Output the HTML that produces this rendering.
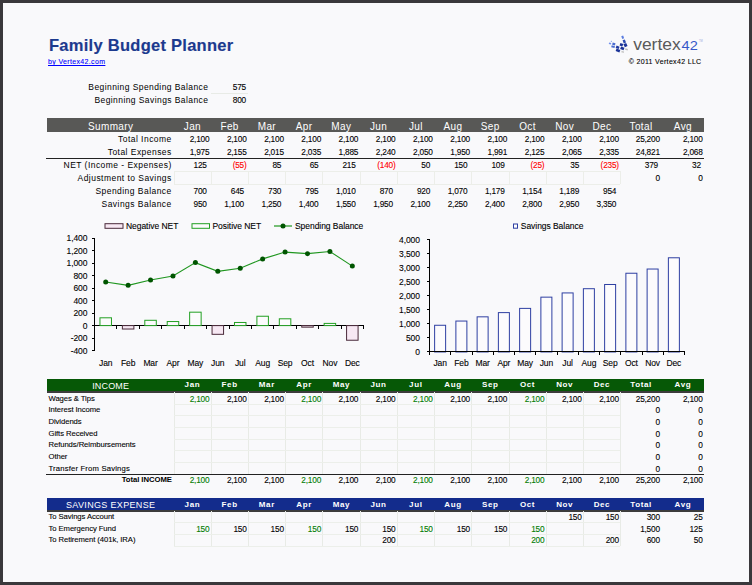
<!DOCTYPE html>
<html lang="en"><head><meta charset="utf-8"><title>Family Budget Planner</title>
<style>
html,body{margin:0;padding:0;}
body{width:752px;height:585px;overflow:hidden;background:#3a383b;font-family:"Liberation Sans", sans-serif;position:relative;}
#pg{position:absolute;left:3px;top:3px;width:746px;height:579px;background:#f9f9fb;}
#c{position:absolute;left:0;top:0;width:752px;height:585px;}
.t{position:absolute;white-space:nowrap;-webkit-text-stroke:0.1px currentColor;}
.r{position:absolute;}
svg{position:absolute;left:0;top:0;}
svg text{font-family:"Liberation Sans", sans-serif;}
svg .ch text{stroke:#000;stroke-width:0.1px;}
a{color:#0000ee;}
</style></head><body><div id="pg"></div><div id="c">
<div class="t" style="top:37.80px;height:14px;line-height:14px;font-size:16.5px;color:#1c3a8e;font-weight:bold;-webkit-text-stroke:0;letter-spacing:0.27px;left:49.00px;height:24px;line-height:24px;margin-top:-5px;-webkit-text-stroke:0.15px currentColor;">Family Budget Planner</div>
<div class="t" style="top:55.00px;height:14px;line-height:14px;font-size:7px;color:#000;letter-spacing:0.35px;left:48.00px;"><a href="#" style="color:#0000ff;text-decoration:underline;">by Vertex42.com</a></div>
<div class="t" style="top:55.00px;height:14px;line-height:14px;font-size:7px;color:#000;letter-spacing:0.33px;right:50.50px;text-align:right;">&copy; 2011 Vertex42 LLC</div>
<div class="t" style="top:79.80px;height:14px;line-height:14px;font-size:8.5px;color:#000;-webkit-text-stroke:0;letter-spacing:0.42px;right:543.60px;text-align:right;">Beginning Spending Balance</div>
<div class="t" style="top:93.00px;height:14px;line-height:14px;font-size:8.5px;color:#000;-webkit-text-stroke:0;letter-spacing:0.42px;right:543.60px;text-align:right;">Beginning Savings Balance</div>
<div class="t" style="top:80.00px;height:14px;line-height:14px;font-size:8.3px;color:#000;letter-spacing:-0.22px;right:506.00px;text-align:right;">575</div>
<div class="t" style="top:93.30px;height:14px;line-height:14px;font-size:8.3px;color:#000;letter-spacing:-0.22px;right:506.00px;text-align:right;">800</div>
<div class="r" style="left:211.00px;top:93.00px;width:37.00px;height:1.00px;background:#e8ebe6;"></div>
<div class="r" style="left:46.80px;top:118.20px;width:657.20px;height:13.50px;background:#585856;"></div>
<div class="t" style="top:119.65px;height:14px;line-height:14px;font-size:10px;color:#fff;-webkit-text-stroke:0;letter-spacing:0.35px;left:10.65px;width:200px;text-align:center;">Summary</div>
<div class="t" style="top:119.65px;height:14px;line-height:14px;font-size:10px;color:#fff;-webkit-text-stroke:0;letter-spacing:0.35px;left:92.42px;width:200px;text-align:center;">Jan</div>
<div class="t" style="top:119.65px;height:14px;line-height:14px;font-size:10px;color:#fff;-webkit-text-stroke:0;letter-spacing:0.35px;left:129.64px;width:200px;text-align:center;">Feb</div>
<div class="t" style="top:119.65px;height:14px;line-height:14px;font-size:10px;color:#fff;-webkit-text-stroke:0;letter-spacing:0.35px;left:166.88px;width:200px;text-align:center;">Mar</div>
<div class="t" style="top:119.65px;height:14px;line-height:14px;font-size:10px;color:#fff;-webkit-text-stroke:0;letter-spacing:0.35px;left:204.10px;width:200px;text-align:center;">Apr</div>
<div class="t" style="top:119.65px;height:14px;line-height:14px;font-size:10px;color:#fff;-webkit-text-stroke:0;letter-spacing:0.35px;left:241.33px;width:200px;text-align:center;">May</div>
<div class="t" style="top:119.65px;height:14px;line-height:14px;font-size:10px;color:#fff;-webkit-text-stroke:0;letter-spacing:0.35px;left:278.56px;width:200px;text-align:center;">Jun</div>
<div class="t" style="top:119.65px;height:14px;line-height:14px;font-size:10px;color:#fff;-webkit-text-stroke:0;letter-spacing:0.35px;left:315.80px;width:200px;text-align:center;">Jul</div>
<div class="t" style="top:119.65px;height:14px;line-height:14px;font-size:10px;color:#fff;-webkit-text-stroke:0;letter-spacing:0.35px;left:353.02px;width:200px;text-align:center;">Aug</div>
<div class="t" style="top:119.65px;height:14px;line-height:14px;font-size:10px;color:#fff;-webkit-text-stroke:0;letter-spacing:0.35px;left:390.25px;width:200px;text-align:center;">Sep</div>
<div class="t" style="top:119.65px;height:14px;line-height:14px;font-size:10px;color:#fff;-webkit-text-stroke:0;letter-spacing:0.35px;left:427.48px;width:200px;text-align:center;">Oct</div>
<div class="t" style="top:119.65px;height:14px;line-height:14px;font-size:10px;color:#fff;-webkit-text-stroke:0;letter-spacing:0.35px;left:464.71px;width:200px;text-align:center;">Nov</div>
<div class="t" style="top:119.65px;height:14px;line-height:14px;font-size:10px;color:#fff;-webkit-text-stroke:0;letter-spacing:0.35px;left:501.94px;width:200px;text-align:center;">Dec</div>
<div class="t" style="top:119.65px;height:14px;line-height:14px;font-size:10px;color:#fff;-webkit-text-stroke:0;letter-spacing:0.35px;left:541.03px;width:200px;text-align:center;">Total</div>
<div class="t" style="top:119.65px;height:14px;line-height:14px;font-size:10px;color:#fff;-webkit-text-stroke:0;letter-spacing:0.35px;left:582.90px;width:200px;text-align:center;">Avg</div>
<div class="t" style="top:132.30px;height:14px;line-height:14px;font-size:8.5px;color:#000;-webkit-text-stroke:0;letter-spacing:0.46px;right:580.24px;text-align:right;">Total Income</div>
<div class="t" style="top:132.00px;height:14px;line-height:14px;font-size:8.3px;color:#000;letter-spacing:-0.22px;right:542.67px;text-align:right;">2,100</div>
<div class="t" style="top:132.00px;height:14px;line-height:14px;font-size:8.3px;color:#000;letter-spacing:-0.22px;right:505.44px;text-align:right;">2,100</div>
<div class="t" style="top:132.00px;height:14px;line-height:14px;font-size:8.3px;color:#000;letter-spacing:-0.22px;right:468.21px;text-align:right;">2,100</div>
<div class="t" style="top:132.00px;height:14px;line-height:14px;font-size:8.3px;color:#000;letter-spacing:-0.22px;right:430.98px;text-align:right;">2,100</div>
<div class="t" style="top:132.00px;height:14px;line-height:14px;font-size:8.3px;color:#000;letter-spacing:-0.22px;right:393.75px;text-align:right;">2,100</div>
<div class="t" style="top:132.00px;height:14px;line-height:14px;font-size:8.3px;color:#000;letter-spacing:-0.22px;right:356.52px;text-align:right;">2,100</div>
<div class="t" style="top:132.00px;height:14px;line-height:14px;font-size:8.3px;color:#000;letter-spacing:-0.22px;right:319.29px;text-align:right;">2,100</div>
<div class="t" style="top:132.00px;height:14px;line-height:14px;font-size:8.3px;color:#000;letter-spacing:-0.22px;right:282.06px;text-align:right;">2,100</div>
<div class="t" style="top:132.00px;height:14px;line-height:14px;font-size:8.3px;color:#000;letter-spacing:-0.22px;right:244.83px;text-align:right;">2,100</div>
<div class="t" style="top:132.00px;height:14px;line-height:14px;font-size:8.3px;color:#000;letter-spacing:-0.22px;right:207.60px;text-align:right;">2,100</div>
<div class="t" style="top:132.00px;height:14px;line-height:14px;font-size:8.3px;color:#000;letter-spacing:-0.22px;right:170.37px;text-align:right;">2,100</div>
<div class="t" style="top:132.00px;height:14px;line-height:14px;font-size:8.3px;color:#000;letter-spacing:-0.22px;right:133.14px;text-align:right;">2,100</div>
<div class="t" style="top:132.00px;height:14px;line-height:14px;font-size:8.3px;color:#000;letter-spacing:-0.22px;right:92.20px;text-align:right;">25,200</div>
<div class="t" style="top:132.00px;height:14px;line-height:14px;font-size:8.3px;color:#000;letter-spacing:-0.22px;right:49.40px;text-align:right;">2,100</div>
<div class="t" style="top:145.20px;height:14px;line-height:14px;font-size:8.5px;color:#000;-webkit-text-stroke:0;letter-spacing:0.46px;right:580.24px;text-align:right;">Total Expenses</div>
<div class="t" style="top:144.90px;height:14px;line-height:14px;font-size:8.3px;color:#000;letter-spacing:-0.22px;right:542.67px;text-align:right;">1,975</div>
<div class="t" style="top:144.90px;height:14px;line-height:14px;font-size:8.3px;color:#000;letter-spacing:-0.22px;right:505.44px;text-align:right;">2,155</div>
<div class="t" style="top:144.90px;height:14px;line-height:14px;font-size:8.3px;color:#000;letter-spacing:-0.22px;right:468.21px;text-align:right;">2,015</div>
<div class="t" style="top:144.90px;height:14px;line-height:14px;font-size:8.3px;color:#000;letter-spacing:-0.22px;right:430.98px;text-align:right;">2,035</div>
<div class="t" style="top:144.90px;height:14px;line-height:14px;font-size:8.3px;color:#000;letter-spacing:-0.22px;right:393.75px;text-align:right;">1,885</div>
<div class="t" style="top:144.90px;height:14px;line-height:14px;font-size:8.3px;color:#000;letter-spacing:-0.22px;right:356.52px;text-align:right;">2,240</div>
<div class="t" style="top:144.90px;height:14px;line-height:14px;font-size:8.3px;color:#000;letter-spacing:-0.22px;right:319.29px;text-align:right;">2,050</div>
<div class="t" style="top:144.90px;height:14px;line-height:14px;font-size:8.3px;color:#000;letter-spacing:-0.22px;right:282.06px;text-align:right;">1,950</div>
<div class="t" style="top:144.90px;height:14px;line-height:14px;font-size:8.3px;color:#000;letter-spacing:-0.22px;right:244.83px;text-align:right;">1,991</div>
<div class="t" style="top:144.90px;height:14px;line-height:14px;font-size:8.3px;color:#000;letter-spacing:-0.22px;right:207.60px;text-align:right;">2,125</div>
<div class="t" style="top:144.90px;height:14px;line-height:14px;font-size:8.3px;color:#000;letter-spacing:-0.22px;right:170.37px;text-align:right;">2,065</div>
<div class="t" style="top:144.90px;height:14px;line-height:14px;font-size:8.3px;color:#000;letter-spacing:-0.22px;right:133.14px;text-align:right;">2,335</div>
<div class="t" style="top:144.90px;height:14px;line-height:14px;font-size:8.3px;color:#000;letter-spacing:-0.22px;right:92.20px;text-align:right;">24,821</div>
<div class="t" style="top:144.90px;height:14px;line-height:14px;font-size:8.3px;color:#000;letter-spacing:-0.22px;right:49.40px;text-align:right;">2,068</div>
<div class="t" style="top:158.10px;height:14px;line-height:14px;font-size:8.5px;color:#000;-webkit-text-stroke:0;letter-spacing:0.46px;right:580.24px;text-align:right;">NET (Income - Expenses)</div>
<div class="t" style="top:157.80px;height:14px;line-height:14px;font-size:8.3px;color:#000;letter-spacing:-0.22px;right:545.27px;text-align:right;">125</div>
<div class="t" style="top:157.80px;height:14px;line-height:14px;font-size:8.3px;color:#ff0000;letter-spacing:-0.22px;right:505.44px;text-align:right;">(55)</div>
<div class="t" style="top:157.80px;height:14px;line-height:14px;font-size:8.3px;color:#000;letter-spacing:-0.22px;right:470.81px;text-align:right;">85</div>
<div class="t" style="top:157.80px;height:14px;line-height:14px;font-size:8.3px;color:#000;letter-spacing:-0.22px;right:433.58px;text-align:right;">65</div>
<div class="t" style="top:157.80px;height:14px;line-height:14px;font-size:8.3px;color:#000;letter-spacing:-0.22px;right:396.35px;text-align:right;">215</div>
<div class="t" style="top:157.80px;height:14px;line-height:14px;font-size:8.3px;color:#ff0000;letter-spacing:-0.22px;right:356.52px;text-align:right;">(140)</div>
<div class="t" style="top:157.80px;height:14px;line-height:14px;font-size:8.3px;color:#000;letter-spacing:-0.22px;right:321.89px;text-align:right;">50</div>
<div class="t" style="top:157.80px;height:14px;line-height:14px;font-size:8.3px;color:#000;letter-spacing:-0.22px;right:284.66px;text-align:right;">150</div>
<div class="t" style="top:157.80px;height:14px;line-height:14px;font-size:8.3px;color:#000;letter-spacing:-0.22px;right:247.43px;text-align:right;">109</div>
<div class="t" style="top:157.80px;height:14px;line-height:14px;font-size:8.3px;color:#ff0000;letter-spacing:-0.22px;right:207.60px;text-align:right;">(25)</div>
<div class="t" style="top:157.80px;height:14px;line-height:14px;font-size:8.3px;color:#000;letter-spacing:-0.22px;right:172.97px;text-align:right;">35</div>
<div class="t" style="top:157.80px;height:14px;line-height:14px;font-size:8.3px;color:#ff0000;letter-spacing:-0.22px;right:133.14px;text-align:right;">(235)</div>
<div class="t" style="top:157.80px;height:14px;line-height:14px;font-size:8.3px;color:#000;letter-spacing:-0.22px;right:94.00px;text-align:right;">379</div>
<div class="t" style="top:157.80px;height:14px;line-height:14px;font-size:8.3px;color:#000;letter-spacing:-0.22px;right:51.20px;text-align:right;">32</div>
<div class="t" style="top:171.00px;height:14px;line-height:14px;font-size:8.5px;color:#000;-webkit-text-stroke:0;letter-spacing:0.46px;right:580.24px;text-align:right;">Adjustment to Savings</div>
<div class="t" style="top:170.70px;height:14px;line-height:14px;font-size:8.3px;color:#000;letter-spacing:-0.22px;right:92.20px;text-align:right;">0</div>
<div class="t" style="top:170.70px;height:14px;line-height:14px;font-size:8.3px;color:#000;letter-spacing:-0.22px;right:49.40px;text-align:right;">0</div>
<div class="t" style="top:183.90px;height:14px;line-height:14px;font-size:8.5px;color:#000;-webkit-text-stroke:0;letter-spacing:0.46px;right:580.24px;text-align:right;">Spending Balance</div>
<div class="t" style="top:183.60px;height:14px;line-height:14px;font-size:8.3px;color:#000;letter-spacing:-0.22px;right:545.27px;text-align:right;">700</div>
<div class="t" style="top:183.60px;height:14px;line-height:14px;font-size:8.3px;color:#000;letter-spacing:-0.22px;right:508.04px;text-align:right;">645</div>
<div class="t" style="top:183.60px;height:14px;line-height:14px;font-size:8.3px;color:#000;letter-spacing:-0.22px;right:470.81px;text-align:right;">730</div>
<div class="t" style="top:183.60px;height:14px;line-height:14px;font-size:8.3px;color:#000;letter-spacing:-0.22px;right:433.58px;text-align:right;">795</div>
<div class="t" style="top:183.60px;height:14px;line-height:14px;font-size:8.3px;color:#000;letter-spacing:-0.22px;right:396.35px;text-align:right;">1,010</div>
<div class="t" style="top:183.60px;height:14px;line-height:14px;font-size:8.3px;color:#000;letter-spacing:-0.22px;right:359.12px;text-align:right;">870</div>
<div class="t" style="top:183.60px;height:14px;line-height:14px;font-size:8.3px;color:#000;letter-spacing:-0.22px;right:321.89px;text-align:right;">920</div>
<div class="t" style="top:183.60px;height:14px;line-height:14px;font-size:8.3px;color:#000;letter-spacing:-0.22px;right:284.66px;text-align:right;">1,070</div>
<div class="t" style="top:183.60px;height:14px;line-height:14px;font-size:8.3px;color:#000;letter-spacing:-0.22px;right:247.43px;text-align:right;">1,179</div>
<div class="t" style="top:183.60px;height:14px;line-height:14px;font-size:8.3px;color:#000;letter-spacing:-0.22px;right:210.20px;text-align:right;">1,154</div>
<div class="t" style="top:183.60px;height:14px;line-height:14px;font-size:8.3px;color:#000;letter-spacing:-0.22px;right:172.97px;text-align:right;">1,189</div>
<div class="t" style="top:183.60px;height:14px;line-height:14px;font-size:8.3px;color:#000;letter-spacing:-0.22px;right:135.74px;text-align:right;">954</div>
<div class="t" style="top:196.80px;height:14px;line-height:14px;font-size:8.5px;color:#000;-webkit-text-stroke:0;letter-spacing:0.46px;right:580.24px;text-align:right;">Savings Balance</div>
<div class="t" style="top:196.50px;height:14px;line-height:14px;font-size:8.3px;color:#000;letter-spacing:-0.22px;right:545.27px;text-align:right;">950</div>
<div class="t" style="top:196.50px;height:14px;line-height:14px;font-size:8.3px;color:#000;letter-spacing:-0.22px;right:508.04px;text-align:right;">1,100</div>
<div class="t" style="top:196.50px;height:14px;line-height:14px;font-size:8.3px;color:#000;letter-spacing:-0.22px;right:470.81px;text-align:right;">1,250</div>
<div class="t" style="top:196.50px;height:14px;line-height:14px;font-size:8.3px;color:#000;letter-spacing:-0.22px;right:433.58px;text-align:right;">1,400</div>
<div class="t" style="top:196.50px;height:14px;line-height:14px;font-size:8.3px;color:#000;letter-spacing:-0.22px;right:396.35px;text-align:right;">1,550</div>
<div class="t" style="top:196.50px;height:14px;line-height:14px;font-size:8.3px;color:#000;letter-spacing:-0.22px;right:359.12px;text-align:right;">1,950</div>
<div class="t" style="top:196.50px;height:14px;line-height:14px;font-size:8.3px;color:#000;letter-spacing:-0.22px;right:321.89px;text-align:right;">2,100</div>
<div class="t" style="top:196.50px;height:14px;line-height:14px;font-size:8.3px;color:#000;letter-spacing:-0.22px;right:284.66px;text-align:right;">2,250</div>
<div class="t" style="top:196.50px;height:14px;line-height:14px;font-size:8.3px;color:#000;letter-spacing:-0.22px;right:247.43px;text-align:right;">2,400</div>
<div class="t" style="top:196.50px;height:14px;line-height:14px;font-size:8.3px;color:#000;letter-spacing:-0.22px;right:210.20px;text-align:right;">2,800</div>
<div class="t" style="top:196.50px;height:14px;line-height:14px;font-size:8.3px;color:#000;letter-spacing:-0.22px;right:172.97px;text-align:right;">2,950</div>
<div class="t" style="top:196.50px;height:14px;line-height:14px;font-size:8.3px;color:#000;letter-spacing:-0.22px;right:135.74px;text-align:right;">3,350</div>
<div class="r" style="left:46.00px;top:158.20px;width:657.50px;height:1.00px;background:#222;"></div>
<div class="r" style="left:173.50px;top:171.30px;width:1.00px;height:13.00px;background:#eceee9;"></div>
<div class="r" style="left:210.73px;top:171.30px;width:1.00px;height:13.00px;background:#eceee9;"></div>
<div class="r" style="left:247.96px;top:171.30px;width:1.00px;height:13.00px;background:#eceee9;"></div>
<div class="r" style="left:285.19px;top:171.30px;width:1.00px;height:13.00px;background:#eceee9;"></div>
<div class="r" style="left:322.42px;top:171.30px;width:1.00px;height:13.00px;background:#eceee9;"></div>
<div class="r" style="left:359.65px;top:171.30px;width:1.00px;height:13.00px;background:#eceee9;"></div>
<div class="r" style="left:396.88px;top:171.30px;width:1.00px;height:13.00px;background:#eceee9;"></div>
<div class="r" style="left:434.11px;top:171.30px;width:1.00px;height:13.00px;background:#eceee9;"></div>
<div class="r" style="left:471.34px;top:171.30px;width:1.00px;height:13.00px;background:#eceee9;"></div>
<div class="r" style="left:508.57px;top:171.30px;width:1.00px;height:13.00px;background:#eceee9;"></div>
<div class="r" style="left:545.80px;top:171.30px;width:1.00px;height:13.00px;background:#eceee9;"></div>
<div class="r" style="left:583.03px;top:171.30px;width:1.00px;height:13.00px;background:#eceee9;"></div>
<div class="r" style="left:620.26px;top:171.30px;width:1.00px;height:13.00px;background:#eceee9;"></div>
<div class="r" style="left:173.50px;top:171.30px;width:446.76px;height:1.00px;background:#eceee9;"></div>
<div class="r" style="left:173.50px;top:184.30px;width:446.76px;height:1.00px;background:#eceee9;"></div>
<div class="r" style="left:46.80px;top:378.60px;width:657.20px;height:12.60px;background:#065806;"></div>
<div class="t" style="top:378.90px;height:14px;line-height:14px;font-size:9px;color:#fff;-webkit-text-stroke:0;letter-spacing:0.15px;left:10.65px;width:200px;text-align:center;">INCOME</div>
<div class="t" style="top:378.40px;height:14px;line-height:14px;font-size:8px;color:#fff;font-weight:bold;-webkit-text-stroke:0;letter-spacing:0.6px;left:92.42px;width:200px;text-align:center;">Jan</div>
<div class="t" style="top:378.40px;height:14px;line-height:14px;font-size:8px;color:#fff;font-weight:bold;-webkit-text-stroke:0;letter-spacing:0.6px;left:129.64px;width:200px;text-align:center;">Feb</div>
<div class="t" style="top:378.40px;height:14px;line-height:14px;font-size:8px;color:#fff;font-weight:bold;-webkit-text-stroke:0;letter-spacing:0.6px;left:166.88px;width:200px;text-align:center;">Mar</div>
<div class="t" style="top:378.40px;height:14px;line-height:14px;font-size:8px;color:#fff;font-weight:bold;-webkit-text-stroke:0;letter-spacing:0.6px;left:204.10px;width:200px;text-align:center;">Apr</div>
<div class="t" style="top:378.40px;height:14px;line-height:14px;font-size:8px;color:#fff;font-weight:bold;-webkit-text-stroke:0;letter-spacing:0.6px;left:241.33px;width:200px;text-align:center;">May</div>
<div class="t" style="top:378.40px;height:14px;line-height:14px;font-size:8px;color:#fff;font-weight:bold;-webkit-text-stroke:0;letter-spacing:0.6px;left:278.56px;width:200px;text-align:center;">Jun</div>
<div class="t" style="top:378.40px;height:14px;line-height:14px;font-size:8px;color:#fff;font-weight:bold;-webkit-text-stroke:0;letter-spacing:0.6px;left:315.80px;width:200px;text-align:center;">Jul</div>
<div class="t" style="top:378.40px;height:14px;line-height:14px;font-size:8px;color:#fff;font-weight:bold;-webkit-text-stroke:0;letter-spacing:0.6px;left:353.02px;width:200px;text-align:center;">Aug</div>
<div class="t" style="top:378.40px;height:14px;line-height:14px;font-size:8px;color:#fff;font-weight:bold;-webkit-text-stroke:0;letter-spacing:0.6px;left:390.25px;width:200px;text-align:center;">Sep</div>
<div class="t" style="top:378.40px;height:14px;line-height:14px;font-size:8px;color:#fff;font-weight:bold;-webkit-text-stroke:0;letter-spacing:0.6px;left:427.48px;width:200px;text-align:center;">Oct</div>
<div class="t" style="top:378.40px;height:14px;line-height:14px;font-size:8px;color:#fff;font-weight:bold;-webkit-text-stroke:0;letter-spacing:0.6px;left:464.71px;width:200px;text-align:center;">Nov</div>
<div class="t" style="top:378.40px;height:14px;line-height:14px;font-size:8px;color:#fff;font-weight:bold;-webkit-text-stroke:0;letter-spacing:0.6px;left:501.94px;width:200px;text-align:center;">Dec</div>
<div class="t" style="top:378.40px;height:14px;line-height:14px;font-size:8px;color:#fff;font-weight:bold;-webkit-text-stroke:0;letter-spacing:0.6px;left:541.03px;width:200px;text-align:center;">Total</div>
<div class="t" style="top:378.40px;height:14px;line-height:14px;font-size:8px;color:#fff;font-weight:bold;-webkit-text-stroke:0;letter-spacing:0.6px;left:582.90px;width:200px;text-align:center;">Avg</div>
<div class="r" style="left:46.80px;top:391.20px;width:657.20px;height:1.50px;background:#3c3c3c;"></div>
<div class="t" style="top:391.70px;height:14px;line-height:14px;font-size:7.7px;color:#000;letter-spacing:-0.08px;left:48.50px;">Wages &amp; Tips</div>
<div class="t" style="top:391.70px;height:14px;line-height:14px;font-size:8.3px;color:#007c00;letter-spacing:-0.22px;right:542.67px;text-align:right;">2,100</div>
<div class="t" style="top:391.70px;height:14px;line-height:14px;font-size:8.3px;color:#000;letter-spacing:-0.22px;right:505.44px;text-align:right;">2,100</div>
<div class="t" style="top:391.70px;height:14px;line-height:14px;font-size:8.3px;color:#000;letter-spacing:-0.22px;right:468.21px;text-align:right;">2,100</div>
<div class="t" style="top:391.70px;height:14px;line-height:14px;font-size:8.3px;color:#007c00;letter-spacing:-0.22px;right:430.98px;text-align:right;">2,100</div>
<div class="t" style="top:391.70px;height:14px;line-height:14px;font-size:8.3px;color:#000;letter-spacing:-0.22px;right:393.75px;text-align:right;">2,100</div>
<div class="t" style="top:391.70px;height:14px;line-height:14px;font-size:8.3px;color:#000;letter-spacing:-0.22px;right:356.52px;text-align:right;">2,100</div>
<div class="t" style="top:391.70px;height:14px;line-height:14px;font-size:8.3px;color:#007c00;letter-spacing:-0.22px;right:319.29px;text-align:right;">2,100</div>
<div class="t" style="top:391.70px;height:14px;line-height:14px;font-size:8.3px;color:#000;letter-spacing:-0.22px;right:282.06px;text-align:right;">2,100</div>
<div class="t" style="top:391.70px;height:14px;line-height:14px;font-size:8.3px;color:#000;letter-spacing:-0.22px;right:244.83px;text-align:right;">2,100</div>
<div class="t" style="top:391.70px;height:14px;line-height:14px;font-size:8.3px;color:#007c00;letter-spacing:-0.22px;right:207.60px;text-align:right;">2,100</div>
<div class="t" style="top:391.70px;height:14px;line-height:14px;font-size:8.3px;color:#000;letter-spacing:-0.22px;right:170.37px;text-align:right;">2,100</div>
<div class="t" style="top:391.70px;height:14px;line-height:14px;font-size:8.3px;color:#000;letter-spacing:-0.22px;right:133.14px;text-align:right;">2,100</div>
<div class="t" style="top:391.70px;height:14px;line-height:14px;font-size:8.3px;color:#000;letter-spacing:-0.22px;right:92.20px;text-align:right;">25,200</div>
<div class="t" style="top:391.70px;height:14px;line-height:14px;font-size:8.3px;color:#000;letter-spacing:-0.22px;right:49.40px;text-align:right;">2,100</div>
<div class="t" style="top:403.35px;height:14px;line-height:14px;font-size:7.7px;color:#000;letter-spacing:-0.08px;left:48.50px;">Interest Income</div>
<div class="t" style="top:403.35px;height:14px;line-height:14px;font-size:8.3px;color:#000;letter-spacing:-0.22px;right:92.20px;text-align:right;">0</div>
<div class="t" style="top:403.35px;height:14px;line-height:14px;font-size:8.3px;color:#000;letter-spacing:-0.22px;right:49.40px;text-align:right;">0</div>
<div class="t" style="top:415.00px;height:14px;line-height:14px;font-size:7.7px;color:#000;letter-spacing:-0.08px;left:48.50px;">Dividends</div>
<div class="t" style="top:415.00px;height:14px;line-height:14px;font-size:8.3px;color:#000;letter-spacing:-0.22px;right:92.20px;text-align:right;">0</div>
<div class="t" style="top:415.00px;height:14px;line-height:14px;font-size:8.3px;color:#000;letter-spacing:-0.22px;right:49.40px;text-align:right;">0</div>
<div class="t" style="top:426.65px;height:14px;line-height:14px;font-size:7.7px;color:#000;letter-spacing:-0.08px;left:48.50px;">Gifts Received</div>
<div class="t" style="top:426.65px;height:14px;line-height:14px;font-size:8.3px;color:#000;letter-spacing:-0.22px;right:92.20px;text-align:right;">0</div>
<div class="t" style="top:426.65px;height:14px;line-height:14px;font-size:8.3px;color:#000;letter-spacing:-0.22px;right:49.40px;text-align:right;">0</div>
<div class="t" style="top:438.30px;height:14px;line-height:14px;font-size:7.7px;color:#000;letter-spacing:-0.08px;left:48.50px;">Refunds/Reimbursements</div>
<div class="t" style="top:438.30px;height:14px;line-height:14px;font-size:8.3px;color:#000;letter-spacing:-0.22px;right:92.20px;text-align:right;">0</div>
<div class="t" style="top:438.30px;height:14px;line-height:14px;font-size:8.3px;color:#000;letter-spacing:-0.22px;right:49.40px;text-align:right;">0</div>
<div class="t" style="top:449.95px;height:14px;line-height:14px;font-size:7.7px;color:#000;letter-spacing:-0.08px;left:48.50px;">Other</div>
<div class="t" style="top:449.95px;height:14px;line-height:14px;font-size:8.3px;color:#000;letter-spacing:-0.22px;right:92.20px;text-align:right;">0</div>
<div class="t" style="top:449.95px;height:14px;line-height:14px;font-size:8.3px;color:#000;letter-spacing:-0.22px;right:49.40px;text-align:right;">0</div>
<div class="t" style="top:461.60px;height:14px;line-height:14px;font-size:7.7px;color:#000;letter-spacing:0.16999999999999998px;left:48.50px;">Transfer From Savings</div>
<div class="t" style="top:461.60px;height:14px;line-height:14px;font-size:8.3px;color:#000;letter-spacing:-0.22px;right:92.20px;text-align:right;">0</div>
<div class="t" style="top:461.60px;height:14px;line-height:14px;font-size:8.3px;color:#000;letter-spacing:-0.22px;right:49.40px;text-align:right;">0</div>
<div class="r" style="left:173.50px;top:392.40px;width:1.00px;height:81.20px;background:#e8ebe6;"></div>
<div class="r" style="left:210.73px;top:392.40px;width:1.00px;height:81.20px;background:#e8ebe6;"></div>
<div class="r" style="left:247.96px;top:392.40px;width:1.00px;height:81.20px;background:#e8ebe6;"></div>
<div class="r" style="left:285.19px;top:392.40px;width:1.00px;height:81.20px;background:#e8ebe6;"></div>
<div class="r" style="left:322.42px;top:392.40px;width:1.00px;height:81.20px;background:#e8ebe6;"></div>
<div class="r" style="left:359.65px;top:392.40px;width:1.00px;height:81.20px;background:#e8ebe6;"></div>
<div class="r" style="left:396.88px;top:392.40px;width:1.00px;height:81.20px;background:#e8ebe6;"></div>
<div class="r" style="left:434.11px;top:392.40px;width:1.00px;height:81.20px;background:#e8ebe6;"></div>
<div class="r" style="left:471.34px;top:392.40px;width:1.00px;height:81.20px;background:#e8ebe6;"></div>
<div class="r" style="left:508.57px;top:392.40px;width:1.00px;height:81.20px;background:#e8ebe6;"></div>
<div class="r" style="left:545.80px;top:392.40px;width:1.00px;height:81.20px;background:#e8ebe6;"></div>
<div class="r" style="left:583.03px;top:392.40px;width:1.00px;height:81.20px;background:#e8ebe6;"></div>
<div class="r" style="left:620.26px;top:392.40px;width:1.00px;height:81.20px;background:#e8ebe6;"></div>
<div class="r" style="left:173.50px;top:403.65px;width:446.76px;height:1.00px;background:#ecefea;"></div>
<div class="r" style="left:173.50px;top:415.30px;width:446.76px;height:1.00px;background:#ecefea;"></div>
<div class="r" style="left:173.50px;top:426.95px;width:446.76px;height:1.00px;background:#ecefea;"></div>
<div class="r" style="left:173.50px;top:438.60px;width:446.76px;height:1.00px;background:#ecefea;"></div>
<div class="r" style="left:173.50px;top:450.25px;width:446.76px;height:1.00px;background:#ecefea;"></div>
<div class="r" style="left:173.50px;top:461.90px;width:446.76px;height:1.00px;background:#ecefea;"></div>
<div class="r" style="left:46.00px;top:473.60px;width:657.50px;height:1.00px;background:#222;"></div>
<div class="t" style="top:472.90px;height:14px;line-height:14px;font-size:7.7px;color:#000;font-weight:bold;-webkit-text-stroke:0;letter-spacing:-0.05px;right:580.20px;text-align:right;">Total INCOME</div>
<div class="t" style="top:472.90px;height:14px;line-height:14px;font-size:8.3px;color:#007c00;letter-spacing:-0.22px;right:542.67px;text-align:right;">2,100</div>
<div class="t" style="top:472.90px;height:14px;line-height:14px;font-size:8.3px;color:#000;letter-spacing:-0.22px;right:505.44px;text-align:right;">2,100</div>
<div class="t" style="top:472.90px;height:14px;line-height:14px;font-size:8.3px;color:#000;letter-spacing:-0.22px;right:468.21px;text-align:right;">2,100</div>
<div class="t" style="top:472.90px;height:14px;line-height:14px;font-size:8.3px;color:#007c00;letter-spacing:-0.22px;right:430.98px;text-align:right;">2,100</div>
<div class="t" style="top:472.90px;height:14px;line-height:14px;font-size:8.3px;color:#000;letter-spacing:-0.22px;right:393.75px;text-align:right;">2,100</div>
<div class="t" style="top:472.90px;height:14px;line-height:14px;font-size:8.3px;color:#000;letter-spacing:-0.22px;right:356.52px;text-align:right;">2,100</div>
<div class="t" style="top:472.90px;height:14px;line-height:14px;font-size:8.3px;color:#007c00;letter-spacing:-0.22px;right:319.29px;text-align:right;">2,100</div>
<div class="t" style="top:472.90px;height:14px;line-height:14px;font-size:8.3px;color:#000;letter-spacing:-0.22px;right:282.06px;text-align:right;">2,100</div>
<div class="t" style="top:472.90px;height:14px;line-height:14px;font-size:8.3px;color:#000;letter-spacing:-0.22px;right:244.83px;text-align:right;">2,100</div>
<div class="t" style="top:472.90px;height:14px;line-height:14px;font-size:8.3px;color:#007c00;letter-spacing:-0.22px;right:207.60px;text-align:right;">2,100</div>
<div class="t" style="top:472.90px;height:14px;line-height:14px;font-size:8.3px;color:#000;letter-spacing:-0.22px;right:170.37px;text-align:right;">2,100</div>
<div class="t" style="top:472.90px;height:14px;line-height:14px;font-size:8.3px;color:#000;letter-spacing:-0.22px;right:133.14px;text-align:right;">2,100</div>
<div class="t" style="top:472.90px;height:14px;line-height:14px;font-size:8.3px;color:#000;letter-spacing:-0.22px;right:92.20px;text-align:right;">25,200</div>
<div class="t" style="top:472.90px;height:14px;line-height:14px;font-size:8.3px;color:#000;letter-spacing:-0.22px;right:49.40px;text-align:right;">2,100</div>
<div class="r" style="left:46.80px;top:497.90px;width:657.20px;height:12.30px;background:#132c8c;"></div>
<div class="t" style="top:497.55px;height:14px;line-height:14px;font-size:9px;color:#fff;-webkit-text-stroke:0;letter-spacing:0.33px;left:10.65px;width:200px;text-align:center;">SAVINGS EXPENSE</div>
<div class="t" style="top:497.55px;height:14px;line-height:14px;font-size:8px;color:#fff;font-weight:bold;-webkit-text-stroke:0;letter-spacing:0.6px;left:92.42px;width:200px;text-align:center;">Jan</div>
<div class="t" style="top:497.55px;height:14px;line-height:14px;font-size:8px;color:#fff;font-weight:bold;-webkit-text-stroke:0;letter-spacing:0.6px;left:129.64px;width:200px;text-align:center;">Feb</div>
<div class="t" style="top:497.55px;height:14px;line-height:14px;font-size:8px;color:#fff;font-weight:bold;-webkit-text-stroke:0;letter-spacing:0.6px;left:166.88px;width:200px;text-align:center;">Mar</div>
<div class="t" style="top:497.55px;height:14px;line-height:14px;font-size:8px;color:#fff;font-weight:bold;-webkit-text-stroke:0;letter-spacing:0.6px;left:204.10px;width:200px;text-align:center;">Apr</div>
<div class="t" style="top:497.55px;height:14px;line-height:14px;font-size:8px;color:#fff;font-weight:bold;-webkit-text-stroke:0;letter-spacing:0.6px;left:241.33px;width:200px;text-align:center;">May</div>
<div class="t" style="top:497.55px;height:14px;line-height:14px;font-size:8px;color:#fff;font-weight:bold;-webkit-text-stroke:0;letter-spacing:0.6px;left:278.56px;width:200px;text-align:center;">Jun</div>
<div class="t" style="top:497.55px;height:14px;line-height:14px;font-size:8px;color:#fff;font-weight:bold;-webkit-text-stroke:0;letter-spacing:0.6px;left:315.80px;width:200px;text-align:center;">Jul</div>
<div class="t" style="top:497.55px;height:14px;line-height:14px;font-size:8px;color:#fff;font-weight:bold;-webkit-text-stroke:0;letter-spacing:0.6px;left:353.02px;width:200px;text-align:center;">Aug</div>
<div class="t" style="top:497.55px;height:14px;line-height:14px;font-size:8px;color:#fff;font-weight:bold;-webkit-text-stroke:0;letter-spacing:0.6px;left:390.25px;width:200px;text-align:center;">Sep</div>
<div class="t" style="top:497.55px;height:14px;line-height:14px;font-size:8px;color:#fff;font-weight:bold;-webkit-text-stroke:0;letter-spacing:0.6px;left:427.48px;width:200px;text-align:center;">Oct</div>
<div class="t" style="top:497.55px;height:14px;line-height:14px;font-size:8px;color:#fff;font-weight:bold;-webkit-text-stroke:0;letter-spacing:0.6px;left:464.71px;width:200px;text-align:center;">Nov</div>
<div class="t" style="top:497.55px;height:14px;line-height:14px;font-size:8px;color:#fff;font-weight:bold;-webkit-text-stroke:0;letter-spacing:0.6px;left:501.94px;width:200px;text-align:center;">Dec</div>
<div class="t" style="top:497.55px;height:14px;line-height:14px;font-size:8px;color:#fff;font-weight:bold;-webkit-text-stroke:0;letter-spacing:0.6px;left:541.03px;width:200px;text-align:center;">Total</div>
<div class="t" style="top:497.55px;height:14px;line-height:14px;font-size:8px;color:#fff;font-weight:bold;-webkit-text-stroke:0;letter-spacing:0.6px;left:582.90px;width:200px;text-align:center;">Avg</div>
<div class="r" style="left:46.80px;top:510.20px;width:657.20px;height:1.50px;background:#3c3c3c;"></div>
<div class="t" style="top:510.00px;height:14px;line-height:14px;font-size:7.7px;color:#000;letter-spacing:-0.08px;left:48.50px;">To Savings Account</div>
<div class="t" style="top:510.00px;height:14px;line-height:14px;font-size:8.3px;color:#000;letter-spacing:-0.22px;right:170.37px;text-align:right;">150</div>
<div class="t" style="top:510.00px;height:14px;line-height:14px;font-size:8.3px;color:#000;letter-spacing:-0.22px;right:133.14px;text-align:right;">150</div>
<div class="t" style="top:510.00px;height:14px;line-height:14px;font-size:8.3px;color:#000;letter-spacing:-0.22px;right:92.20px;text-align:right;">300</div>
<div class="t" style="top:510.00px;height:14px;line-height:14px;font-size:8.3px;color:#000;letter-spacing:-0.22px;right:49.40px;text-align:right;">25</div>
<div class="t" style="top:521.60px;height:14px;line-height:14px;font-size:7.7px;color:#000;letter-spacing:-0.08px;left:48.50px;">To Emergency Fund</div>
<div class="t" style="top:521.60px;height:14px;line-height:14px;font-size:8.3px;color:#007c00;letter-spacing:-0.22px;right:542.67px;text-align:right;">150</div>
<div class="t" style="top:521.60px;height:14px;line-height:14px;font-size:8.3px;color:#000;letter-spacing:-0.22px;right:505.44px;text-align:right;">150</div>
<div class="t" style="top:521.60px;height:14px;line-height:14px;font-size:8.3px;color:#000;letter-spacing:-0.22px;right:468.21px;text-align:right;">150</div>
<div class="t" style="top:521.60px;height:14px;line-height:14px;font-size:8.3px;color:#007c00;letter-spacing:-0.22px;right:430.98px;text-align:right;">150</div>
<div class="t" style="top:521.60px;height:14px;line-height:14px;font-size:8.3px;color:#000;letter-spacing:-0.22px;right:393.75px;text-align:right;">150</div>
<div class="t" style="top:521.60px;height:14px;line-height:14px;font-size:8.3px;color:#000;letter-spacing:-0.22px;right:356.52px;text-align:right;">150</div>
<div class="t" style="top:521.60px;height:14px;line-height:14px;font-size:8.3px;color:#007c00;letter-spacing:-0.22px;right:319.29px;text-align:right;">150</div>
<div class="t" style="top:521.60px;height:14px;line-height:14px;font-size:8.3px;color:#000;letter-spacing:-0.22px;right:282.06px;text-align:right;">150</div>
<div class="t" style="top:521.60px;height:14px;line-height:14px;font-size:8.3px;color:#000;letter-spacing:-0.22px;right:244.83px;text-align:right;">150</div>
<div class="t" style="top:521.60px;height:14px;line-height:14px;font-size:8.3px;color:#007c00;letter-spacing:-0.22px;right:207.60px;text-align:right;">150</div>
<div class="t" style="top:521.60px;height:14px;line-height:14px;font-size:8.3px;color:#000;letter-spacing:-0.22px;right:92.20px;text-align:right;">1,500</div>
<div class="t" style="top:521.60px;height:14px;line-height:14px;font-size:8.3px;color:#000;letter-spacing:-0.22px;right:49.40px;text-align:right;">125</div>
<div class="t" style="top:533.30px;height:14px;line-height:14px;font-size:7.7px;color:#000;letter-spacing:-0.08px;left:48.50px;">To Retirement (401k, IRA)</div>
<div class="t" style="top:533.30px;height:14px;line-height:14px;font-size:8.3px;color:#000;letter-spacing:-0.22px;right:356.52px;text-align:right;">200</div>
<div class="t" style="top:533.30px;height:14px;line-height:14px;font-size:8.3px;color:#007c00;letter-spacing:-0.22px;right:207.60px;text-align:right;">200</div>
<div class="t" style="top:533.30px;height:14px;line-height:14px;font-size:8.3px;color:#000;letter-spacing:-0.22px;right:133.14px;text-align:right;">200</div>
<div class="t" style="top:533.30px;height:14px;line-height:14px;font-size:8.3px;color:#000;letter-spacing:-0.22px;right:92.20px;text-align:right;">600</div>
<div class="t" style="top:533.30px;height:14px;line-height:14px;font-size:8.3px;color:#000;letter-spacing:-0.22px;right:49.40px;text-align:right;">50</div>
<div class="r" style="left:173.50px;top:511.20px;width:1.00px;height:34.80px;background:#e8ebe6;"></div>
<div class="r" style="left:210.73px;top:511.20px;width:1.00px;height:34.80px;background:#e8ebe6;"></div>
<div class="r" style="left:247.96px;top:511.20px;width:1.00px;height:34.80px;background:#e8ebe6;"></div>
<div class="r" style="left:285.19px;top:511.20px;width:1.00px;height:34.80px;background:#e8ebe6;"></div>
<div class="r" style="left:322.42px;top:511.20px;width:1.00px;height:34.80px;background:#e8ebe6;"></div>
<div class="r" style="left:359.65px;top:511.20px;width:1.00px;height:34.80px;background:#e8ebe6;"></div>
<div class="r" style="left:396.88px;top:511.20px;width:1.00px;height:34.80px;background:#e8ebe6;"></div>
<div class="r" style="left:434.11px;top:511.20px;width:1.00px;height:34.80px;background:#e8ebe6;"></div>
<div class="r" style="left:471.34px;top:511.20px;width:1.00px;height:34.80px;background:#e8ebe6;"></div>
<div class="r" style="left:508.57px;top:511.20px;width:1.00px;height:34.80px;background:#e8ebe6;"></div>
<div class="r" style="left:545.80px;top:511.20px;width:1.00px;height:34.80px;background:#e8ebe6;"></div>
<div class="r" style="left:583.03px;top:511.20px;width:1.00px;height:34.80px;background:#e8ebe6;"></div>
<div class="r" style="left:620.26px;top:511.20px;width:1.00px;height:34.80px;background:#e8ebe6;"></div>
<div class="r" style="left:173.50px;top:522.25px;width:446.76px;height:1.00px;background:#ecefea;"></div>
<div class="r" style="left:173.50px;top:533.90px;width:446.76px;height:1.00px;background:#ecefea;"></div>
<div class="r" style="left:173.50px;top:545.55px;width:446.76px;height:1.00px;background:#ecefea;"></div>
<svg width="752" height="585" viewBox="0 0 752 585">
<g class="ch">
<g shape-rendering="crispEdges" stroke="#000" stroke-width="1" fill="none">
<path d="M94.5 237.8 V351.03000000000003"/>
<path d="M91.5 238.30 H94.5"/>
<path d="M91.5 250.77 H94.5"/>
<path d="M91.5 263.24 H94.5"/>
<path d="M91.5 275.71 H94.5"/>
<path d="M91.5 288.18 H94.5"/>
<path d="M91.5 300.65 H94.5"/>
<path d="M91.5 313.12 H94.5"/>
<path d="M91.5 325.59 H94.5"/>
<path d="M91.5 338.06 H94.5"/>
<path d="M91.5 350.53 H94.5"/>
<path d="M94.5 325.59 H364.04"/>
<path d="M94.50 325.59 V328.59"/>
<path d="M116.92 325.59 V328.59"/>
<path d="M139.34 325.59 V328.59"/>
<path d="M161.76 325.59 V328.59"/>
<path d="M184.18 325.59 V328.59"/>
<path d="M206.60 325.59 V328.59"/>
<path d="M229.02 325.59 V328.59"/>
<path d="M251.44 325.59 V328.59"/>
<path d="M273.86 325.59 V328.59"/>
<path d="M296.28 325.59 V328.59"/>
<path d="M318.70 325.59 V328.59"/>
<path d="M341.12 325.59 V328.59"/>
<path d="M363.54 325.59 V328.59"/>
</g>
<text x="87.3" y="241.30" font-size="8.5" text-anchor="end" letter-spacing="-0.1">1,400</text>
<text x="87.3" y="253.77" font-size="8.5" text-anchor="end" letter-spacing="-0.1">1,200</text>
<text x="87.3" y="266.24" font-size="8.5" text-anchor="end" letter-spacing="-0.1">1,000</text>
<text x="87.3" y="278.71" font-size="8.5" text-anchor="end" letter-spacing="-0.1">800</text>
<text x="87.3" y="291.18" font-size="8.5" text-anchor="end" letter-spacing="-0.1">600</text>
<text x="87.3" y="303.65" font-size="8.5" text-anchor="end" letter-spacing="-0.1">400</text>
<text x="87.3" y="316.12" font-size="8.5" text-anchor="end" letter-spacing="-0.1">200</text>
<text x="87.3" y="328.59" font-size="8.5" text-anchor="end" letter-spacing="-0.1">0</text>
<text x="87.3" y="341.06" font-size="8.5" text-anchor="end" letter-spacing="-0.1">-200</text>
<text x="87.3" y="353.53" font-size="8.5" text-anchor="end" letter-spacing="-0.1">-400</text>
<rect x="99.96" y="317.80" width="11.5" height="7.79" fill="#fcfbfd" stroke="#22a022" stroke-width="1"/>
<rect x="122.38" y="325.59" width="11.5" height="3.43" fill="#f7e8f3" stroke="#4a2a3a" stroke-width="1"/>
<rect x="144.80" y="320.29" width="11.5" height="5.30" fill="#fcfbfd" stroke="#22a022" stroke-width="1"/>
<rect x="167.22" y="321.54" width="11.5" height="4.05" fill="#fcfbfd" stroke="#22a022" stroke-width="1"/>
<rect x="189.64" y="312.18" width="11.5" height="13.41" fill="#fcfbfd" stroke="#22a022" stroke-width="1"/>
<rect x="212.06" y="325.59" width="11.5" height="8.73" fill="#f7e8f3" stroke="#4a2a3a" stroke-width="1"/>
<rect x="234.48" y="322.47" width="11.5" height="3.12" fill="#fcfbfd" stroke="#22a022" stroke-width="1"/>
<rect x="256.90" y="316.24" width="11.5" height="9.35" fill="#fcfbfd" stroke="#22a022" stroke-width="1"/>
<rect x="279.32" y="318.79" width="11.5" height="6.80" fill="#fcfbfd" stroke="#22a022" stroke-width="1"/>
<rect x="301.74" y="325.59" width="11.5" height="1.56" fill="#f7e8f3" stroke="#4a2a3a" stroke-width="1"/>
<rect x="324.16" y="323.41" width="11.5" height="2.18" fill="#fcfbfd" stroke="#22a022" stroke-width="1"/>
<rect x="346.58" y="325.59" width="11.5" height="14.65" fill="#f7e8f3" stroke="#4a2a3a" stroke-width="1"/>
<polyline fill="none" stroke="#1f961f" stroke-width="1.1" points="105.71,281.95 128.13,285.37 150.55,280.07 172.97,276.02 195.39,262.62 217.81,271.35 240.23,268.23 262.65,258.88 285.07,252.08 307.49,253.64 329.91,251.46 352.33,266.11"/>
<circle cx="105.71" cy="281.95" r="2.5" fill="#005500"/>
<circle cx="128.13" cy="285.37" r="2.5" fill="#005500"/>
<circle cx="150.55" cy="280.07" r="2.5" fill="#005500"/>
<circle cx="172.97" cy="276.02" r="2.5" fill="#005500"/>
<circle cx="195.39" cy="262.62" r="2.5" fill="#005500"/>
<circle cx="217.81" cy="271.35" r="2.5" fill="#005500"/>
<circle cx="240.23" cy="268.23" r="2.5" fill="#005500"/>
<circle cx="262.65" cy="258.88" r="2.5" fill="#005500"/>
<circle cx="285.07" cy="252.08" r="2.5" fill="#005500"/>
<circle cx="307.49" cy="253.64" r="2.5" fill="#005500"/>
<circle cx="329.91" cy="251.46" r="2.5" fill="#005500"/>
<circle cx="352.33" cy="266.11" r="2.5" fill="#005500"/>
<text x="105.71" y="365.60" font-size="8.5" text-anchor="middle" letter-spacing="-0.1">Jan</text>
<text x="128.13" y="365.60" font-size="8.5" text-anchor="middle" letter-spacing="-0.1">Feb</text>
<text x="150.55" y="365.60" font-size="8.5" text-anchor="middle" letter-spacing="-0.1">Mar</text>
<text x="172.97" y="365.60" font-size="8.5" text-anchor="middle" letter-spacing="-0.1">Apr</text>
<text x="195.39" y="365.60" font-size="8.5" text-anchor="middle" letter-spacing="-0.1">May</text>
<text x="217.81" y="365.60" font-size="8.5" text-anchor="middle" letter-spacing="-0.1">Jun</text>
<text x="240.23" y="365.60" font-size="8.5" text-anchor="middle" letter-spacing="-0.1">Jul</text>
<text x="262.65" y="365.60" font-size="8.5" text-anchor="middle" letter-spacing="-0.1">Aug</text>
<text x="285.07" y="365.60" font-size="8.5" text-anchor="middle" letter-spacing="-0.1">Sep</text>
<text x="307.49" y="365.60" font-size="8.5" text-anchor="middle" letter-spacing="-0.1">Oct</text>
<text x="329.91" y="365.60" font-size="8.5" text-anchor="middle" letter-spacing="-0.1">Nov</text>
<text x="352.33" y="365.60" font-size="8.5" text-anchor="middle" letter-spacing="-0.1">Dec</text>
<rect x="105" y="223.7" width="18" height="4.6" fill="#f7e8f3" stroke="#4a2a3a" stroke-width="1"/>
<text x="126" y="229.00" font-size="8.5" letter-spacing="-0.05">Negative NET</text>
<rect x="192" y="223.7" width="17.5" height="4.6" fill="#fcfbfd" stroke="#22a022" stroke-width="1"/>
<text x="212.5" y="229.00" font-size="8.5" letter-spacing="-0.05">Positive NET</text>
<path d="M274 226 H292" stroke="#1f961f" stroke-width="1.2"/>
<circle cx="283" cy="226" r="2.5" fill="#005500"/>
<text x="295" y="229.00" font-size="8.5" letter-spacing="-0.05">Spending Balance</text>
<g shape-rendering="crispEdges" stroke="#000" stroke-width="1" fill="none">
<path d="M429.5 239.0 V352.48"/>
<path d="M426.5 239.50 H429.5"/>
<path d="M426.5 253.56 H429.5"/>
<path d="M426.5 267.62 H429.5"/>
<path d="M426.5 281.68 H429.5"/>
<path d="M426.5 295.74 H429.5"/>
<path d="M426.5 309.80 H429.5"/>
<path d="M426.5 323.86 H429.5"/>
<path d="M426.5 337.92 H429.5"/>
<path d="M426.5 351.98 H429.5"/>
</g>
<text x="419.8" y="242.50" font-size="8.5" text-anchor="end" letter-spacing="-0.1">4,000</text>
<text x="419.8" y="256.56" font-size="8.5" text-anchor="end" letter-spacing="-0.1">3,500</text>
<text x="419.8" y="270.62" font-size="8.5" text-anchor="end" letter-spacing="-0.1">3,000</text>
<text x="419.8" y="284.68" font-size="8.5" text-anchor="end" letter-spacing="-0.1">2,500</text>
<text x="419.8" y="298.74" font-size="8.5" text-anchor="end" letter-spacing="-0.1">2,000</text>
<text x="419.8" y="312.80" font-size="8.5" text-anchor="end" letter-spacing="-0.1">1,500</text>
<text x="419.8" y="326.86" font-size="8.5" text-anchor="end" letter-spacing="-0.1">1,000</text>
<text x="419.8" y="340.92" font-size="8.5" text-anchor="end" letter-spacing="-0.1">500</text>
<text x="419.8" y="354.98" font-size="8.5" text-anchor="end" letter-spacing="-0.1">0</text>
<rect x="434.62" y="325.27" width="11" height="26.71" fill="#fcfbfd" stroke="#2e3fa2" stroke-width="1"/>
<rect x="455.88" y="321.05" width="11" height="30.93" fill="#fcfbfd" stroke="#2e3fa2" stroke-width="1"/>
<rect x="477.12" y="316.83" width="11" height="35.15" fill="#fcfbfd" stroke="#2e3fa2" stroke-width="1"/>
<rect x="498.38" y="312.61" width="11" height="39.37" fill="#fcfbfd" stroke="#2e3fa2" stroke-width="1"/>
<rect x="519.62" y="308.39" width="11" height="43.59" fill="#fcfbfd" stroke="#2e3fa2" stroke-width="1"/>
<rect x="540.88" y="297.15" width="11" height="54.83" fill="#fcfbfd" stroke="#2e3fa2" stroke-width="1"/>
<rect x="562.12" y="292.93" width="11" height="59.05" fill="#fcfbfd" stroke="#2e3fa2" stroke-width="1"/>
<rect x="583.38" y="288.71" width="11" height="63.27" fill="#fcfbfd" stroke="#2e3fa2" stroke-width="1"/>
<rect x="604.62" y="284.49" width="11" height="67.49" fill="#fcfbfd" stroke="#2e3fa2" stroke-width="1"/>
<rect x="625.88" y="273.24" width="11" height="78.74" fill="#fcfbfd" stroke="#2e3fa2" stroke-width="1"/>
<rect x="647.12" y="269.03" width="11" height="82.95" fill="#fcfbfd" stroke="#2e3fa2" stroke-width="1"/>
<rect x="668.38" y="257.78" width="11" height="94.20" fill="#fcfbfd" stroke="#2e3fa2" stroke-width="1"/>
<g shape-rendering="crispEdges" stroke="#000" stroke-width="1" fill="none">
<path d="M429.5 351.98 H685.00"/>
<path d="M429.50 351.98 V354.98"/>
<path d="M450.75 351.98 V354.98"/>
<path d="M472.00 351.98 V354.98"/>
<path d="M493.25 351.98 V354.98"/>
<path d="M514.50 351.98 V354.98"/>
<path d="M535.75 351.98 V354.98"/>
<path d="M557.00 351.98 V354.98"/>
<path d="M578.25 351.98 V354.98"/>
<path d="M599.50 351.98 V354.98"/>
<path d="M620.75 351.98 V354.98"/>
<path d="M642.00 351.98 V354.98"/>
<path d="M663.25 351.98 V354.98"/>
<path d="M684.50 351.98 V354.98"/>
</g>
<text x="440.12" y="366.00" font-size="8.5" text-anchor="middle" letter-spacing="-0.1">Jan</text>
<text x="461.38" y="366.00" font-size="8.5" text-anchor="middle" letter-spacing="-0.1">Feb</text>
<text x="482.62" y="366.00" font-size="8.5" text-anchor="middle" letter-spacing="-0.1">Mar</text>
<text x="503.88" y="366.00" font-size="8.5" text-anchor="middle" letter-spacing="-0.1">Apr</text>
<text x="525.12" y="366.00" font-size="8.5" text-anchor="middle" letter-spacing="-0.1">May</text>
<text x="546.38" y="366.00" font-size="8.5" text-anchor="middle" letter-spacing="-0.1">Jun</text>
<text x="567.62" y="366.00" font-size="8.5" text-anchor="middle" letter-spacing="-0.1">Jul</text>
<text x="588.88" y="366.00" font-size="8.5" text-anchor="middle" letter-spacing="-0.1">Aug</text>
<text x="610.12" y="366.00" font-size="8.5" text-anchor="middle" letter-spacing="-0.1">Sep</text>
<text x="631.38" y="366.00" font-size="8.5" text-anchor="middle" letter-spacing="-0.1">Oct</text>
<text x="652.62" y="366.00" font-size="8.5" text-anchor="middle" letter-spacing="-0.1">Nov</text>
<text x="673.88" y="366.00" font-size="8.5" text-anchor="middle" letter-spacing="-0.1">Dec</text>
<rect x="513.5" y="224.0" width="4" height="4.2" fill="#fff" stroke="#2e3fa2" stroke-width="1"/>
<text x="520.8" y="229.20" font-size="8.5" letter-spacing="-0.05">Savings Balance</text>
</g>
<g id="logo">
<rect x="621.70" y="35.85" width="2.0" height="2.9" fill="#5b7de0" transform="rotate(-20 622.7 37.3)"/>
<rect x="623.10" y="39.70" width="2.4" height="3.4" fill="#2a4ab0" transform="rotate(-20 624.3 41.4)"/>
<rect x="624.00" y="43.50" width="3.0" height="3.4" fill="#1b3398" transform="rotate(-25 625.5 45.2)"/>
<rect x="619.90" y="43.50" width="3.0" height="2.6" fill="#1b3398" transform="rotate(20 621.4 44.8)"/>
<rect x="620.50" y="47.00" width="3.6" height="2.8" fill="#1b3398" transform="rotate(20 622.3 48.4)"/>
<rect x="616.00" y="46.05" width="3.2" height="2.5" fill="#1e38a0" transform="rotate(20 617.6 47.3)"/>
<rect x="616.00" y="49.15" width="4.0" height="2.7" fill="#1b3398" transform="rotate(20 618.0 50.5)"/>
<rect x="612.35" y="42.95" width="2.9" height="2.3" fill="#4a6cd0" transform="rotate(15 613.8 44.1)"/>
<rect x="611.40" y="45.70" width="3.4" height="2.0" fill="#4a6cd0" transform="rotate(15 613.1 46.7)"/>
<rect x="608.95" y="42.65" width="2.1" height="1.7" fill="#7090ee" transform="rotate(15 610.0 43.5)"/>
<rect x="610.80" y="40.80" width="1.2" height="1.2" fill="#9ab4f4" transform="rotate(0 611.4 41.4)"/>
<rect x="625.20" y="48.65" width="2.6" height="1.5" fill="#bdbdbd" transform="rotate(15 626.5 49.4)"/>
<rect x="621.40" y="51.15" width="2.6" height="1.5" fill="#c8c8c8" transform="rotate(15 622.7 51.9)"/>
<text x="633.2" y="49.9" font-family="'DejaVu Sans Light', 'DejaVu Sans', 'Liberation Sans', sans-serif" font-weight="200" font-size="16" fill="#5a5a5a" textLength="47.5" lengthAdjust="spacingAndGlyphs">vertex</text>
<text x="681.6" y="49.9" font-family="'DejaVu Sans Light', 'DejaVu Sans', 'Liberation Sans', sans-serif" font-weight="200" font-size="12" fill="#3558c8" textLength="16.2" lengthAdjust="spacingAndGlyphs">42</text>
<text x="699" y="41.6" font-size="2.6" fill="#9aa8dc">TM</text>
</g>
</svg>
</div></body></html>
